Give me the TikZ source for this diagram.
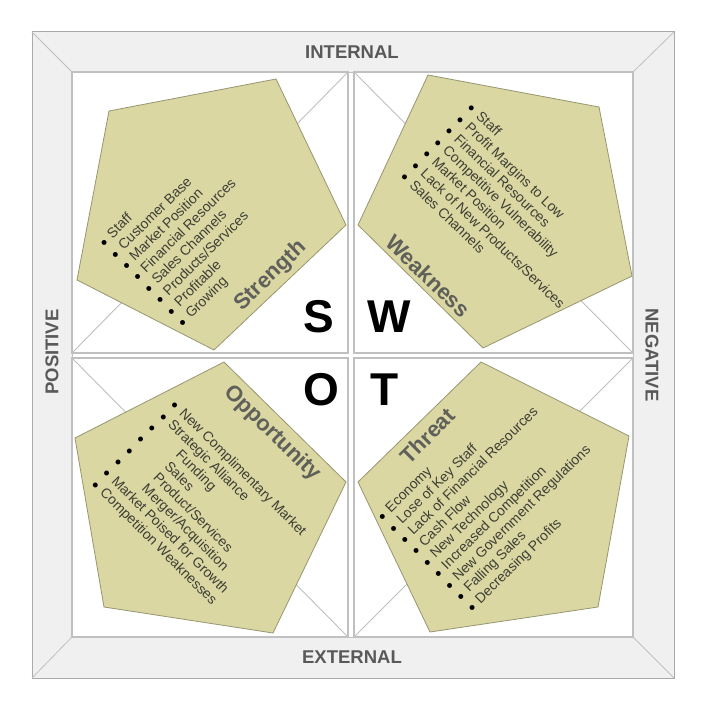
\documentclass[tikz,border=0pt]{standalone}
\usepackage{fontspec}
\setmainfont{Liberation Sans}
\usepackage{graphicx}
\definecolor{khaki}{RGB}{218,215,163}
\definecolor{pentline}{RGB}{150,150,112}
\definecolor{bandfill}{RGB}{240,240,240}
\definecolor{bandline}{RGB}{170,170,170}
\definecolor{quadline}{RGB}{192,192,192}
\definecolor{itemgray}{RGB}{62,62,52}
\definecolor{titlegray}{RGB}{96,96,90}
\definecolor{labelgray}{RGB}{89,89,89}
\newcommand{\swotbullet}{\makebox[12pt][l]{\raisebox{-3pt}{\textcolor{black}{\scalebox{1.3}{\textbullet}}}}}
\newcommand{\swotindent}{\hspace{27pt}}
\begin{document}
\begin{tikzpicture}[x=1pt,y=-1pt,
  band/.style={fill=bandfill,draw=bandline,line width=1pt},
  bevel/.style={draw=quadline,line width=0.8pt},
  quad/.style={fill=white,draw=quadline,line width=1.2pt},
  diag/.style={draw=quadline,line width=0.9pt},
  pent/.style={fill=khaki,draw=pentline,line width=0.8pt},
  itemlist/.style={anchor=base west,inner sep=0pt,outer sep=0pt,font=\fontsize{14}{16}\selectfont,text=itemgray},
  title/.style={inner sep=0pt,font=\bfseries\fontsize{22}{26}\selectfont,text=titlegray},
  letter/.style={inner sep=0pt,font=\bfseries\fontsize{46}{50}\selectfont,text=black},
  axis/.style={inner sep=0pt,font=\bfseries\fontsize{18.5}{22}\selectfont,text=labelgray}]
\useasboundingbox (0,0) rectangle (704,709);
\fill[white] (0,0) rectangle (704,709);
% bevelled frame
\draw[band] (32,32) rectangle (674,678);
\draw[bevel] (32,32) -- (72,72);
\draw[bevel] (674,32) -- (633,72);
\draw[bevel] (32,678) -- (72,637);
\draw[bevel] (674,678) -- (633,637);
\draw[fill=white,draw=quadline,line width=1pt] (72,72) rectangle (633,637);
% quadrants
\draw[quad] (72,72) rectangle (348,353);
\draw[quad] (354,72) rectangle (633,353);
\draw[quad] (72,358) rectangle (348,637);
\draw[quad] (354,358) rectangle (633,637);
\draw[diag] (72,353) -- (348,72);
\draw[diag] (354,72) -- (633,353);
\draw[diag] (72,358) -- (348,637);
\draw[diag] (354,637) -- (633,358);
% pentagons
\draw[pent] (109,111) -- (276,79) -- (346,225) -- (214,350) -- (77,280) -- cycle;
\draw[pent] (428,75) -- (599,107) -- (632,276) -- (483,348) -- (358,225) -- cycle;
\draw[pent] (224,362) -- (346,482) -- (273,633) -- (104,607) -- (75,438) -- cycle;
\draw[pent] (481,362) -- (629,436) -- (598,607) -- (430,632) -- (358,482) -- cycle;
% lists
\node[itemlist,rotate=44.5] (slist) at (103.98,247.48) {\begin{tabular}[t]{@{}l@{}}
\swotbullet Staff\\ \swotbullet Customer Base\\ \swotbullet Market Position\\ \swotbullet Financial Resources\\
\swotbullet Sales Channels\\ \swotbullet Products/Services\\ \swotbullet Profitable\\ \swotbullet Growing
\end{tabular}};
\node[itemlist,rotate=-44] (wlist) at (466.85,108.74) {\begin{tabular}[t]{@{}l@{}}
\swotbullet Staff\\ \swotbullet Profit Margins to Low\\ \swotbullet Financial Resources\\ \swotbullet Competitive Vulnerability\\
\swotbullet Market Position\\ \swotbullet Lack of New Products/Services\\ \swotbullet Sales Channels
\end{tabular}};
\node[itemlist,rotate=-45] (olist) at (170.19,405.68) {\begin{tabular}[t]{@{}l@{}}
\swotbullet New Complimentary Market\\ \swotbullet Strategic Alliance\\ \swotbullet\swotindent Funding\\ \swotbullet\swotindent Sales\\
\swotbullet\swotindent Product/Services\\ \swotbullet\swotindent Merger/Acquisition\\ \swotbullet Market Poised for Growth\\ \swotbullet Competition Weaknesses
\end{tabular}};
\node[itemlist,rotate=44.5] (tlist) at (382.32,521.48) {\begin{tabular}[t]{@{}l@{}}
\swotbullet Economy\\ \swotbullet Lose of Key Staff\\ \swotbullet Lack of Financial Resources\\ \swotbullet Cash Flow\\
\swotbullet New Technology\\ \swotbullet Increased Competition\\ \swotbullet New Government Regulations\\ \swotbullet Falling Sales\\
\swotbullet Decreasing Profits
\end{tabular}};
% titles
\node[title,rotate=44] (strength) at (270.7,276) {Strength};
\node[title,rotate=-44] (weakness) at (428.3,276) {Weakness};
\node[title,rotate=-44.5] (opportunity) at (272.3,433.3) {Opportunity};
\node[title,rotate=45] (threat) at (427.3,435.7) {Threat};
% big letters
\node[letter] (S) at (319,317) {S};
\node[letter] (W) at (389,317) {W};
\node[letter] (O) at (321,390) {O};
\node[letter] (T) at (385,390) {T};
% axis labels
\node[axis] (internal) at (352,52) {INTERNAL};
\node[axis] (external) at (352,657) {EXTERNAL};
\node[axis,rotate=90] (positive) at (52,352) {POSITIVE};
\node[axis,rotate=-90] (negative) at (652,355) {NEGATIVE};
\end{tikzpicture}
\end{document}
